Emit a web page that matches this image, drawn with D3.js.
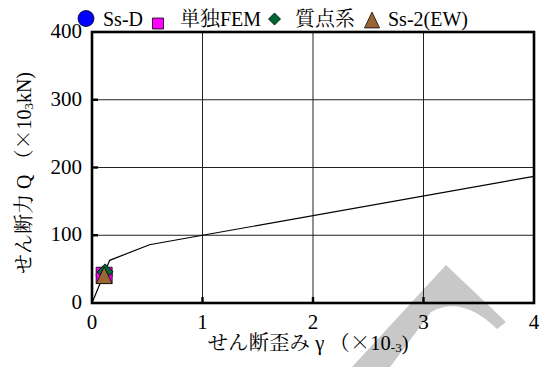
<!DOCTYPE html>
<html>
<head>
<meta charset="utf-8">
<script src="https://cdn.jsdelivr.net/npm/d3@7"></script>
<style>
  html, body { margin: 0; padding: 0; background: #fff; }
  svg { display: block; }
</style>
</head>
<body>
<svg id="chart" width="545" height="367"></svg>
<script>
// Skeleton curve (shear strain γ ×10^-3 vs shear force Q ×10^3 kN)
const curveGamma = [0, 0.16, 0.52, 1, 4];
const curveQ     = [0, 63, 86, 100, 187];

// Response points of each analysis case
const seriesNames = ["Ss-D", "単独FEM", "質点系", "Ss-2(EW)"];
const seriesGamma = [0.11, 0.11, 0.118, 0.11];
const seriesQ     = [41, 41, 46, 41];
const seriesColors = ["#0000ff", "#ff00ff", "#006633", "#996633"];
const seriesShapes = ["circle", "square", "diamond", "triangle"];

// Axis ticks
const xTicks = [0, 1, 2, 3, 4];
const yTicks = [0, 100, 200, 300, 400];

const FONT = "Liberation Serif, Noto Serif CJK JP, serif";
const CJK = "Noto Serif CJK JP, serif";

const svg = d3.select("#chart");
const x = d3.scaleLinear().domain([0, 4]).range([92, 534]);
const y = d3.scaleLinear().domain([0, 400]).range([303, 32]);

function label(sel) {
  return sel.append("text").attr("font-family", FONT).attr("fill", "#000");
}

// light grey chevron behind the lower right of the plot
svg.append("path")
  .attr("d", "M446,265 L506,322 L497,329 Q462,295 431,312 L390,367 L352,367 Z")
  .attr("fill", "#c8c8c8");

// marker outline path centred on (cx, cy); w = width
function shapePath(shape, cx, cy, w) {
  const h = w / 2;
  if (shape === "square") {
    return `M${cx - h},${cy - h}H${cx + h}V${cy + h}H${cx - h}Z`;
  } else if (shape === "diamond") {
    return `M${cx},${cy - h}L${cx + h},${cy}L${cx},${cy + h}L${cx - h},${cy}Z`;
  } else if (shape === "triangle") {
    const th = w * 1.05 / 2;
    return `M${cx},${cy - th}L${cx + h},${cy + th}L${cx - h},${cy + th}Z`;
  } else {
    const r = h;
    return `M${cx - r},${cy}A${r},${r} 0 1,0 ${cx + r},${cy}A${r},${r} 0 1,0 ${cx - r},${cy}Z`;
  }
}

// grid
const grid = svg.append("g").attr("stroke", "#222").attr("stroke-width", 1);
grid.selectAll("line.gx").data(xTicks.slice(1, -1)).join("line")
  .attr("x1", d => x(d)).attr("x2", d => x(d))
  .attr("y1", y(0)).attr("y2", y(400));
grid.selectAll("line.gy").data(yTicks.slice(1, -1)).join("line")
  .attr("y1", d => y(d)).attr("y2", d => y(d))
  .attr("x1", x(0)).attr("x2", x(4));

// skeleton curve
const line = d3.line().x(d => x(d[0])).y(d => y(d[1]));
svg.append("path")
  .datum(curveGamma.map((g, i) => [g, curveQ[i]]))
  .attr("d", line)
  .attr("fill", "none").attr("stroke", "#000").attr("stroke-width", 1.2);

// response markers
seriesNames.forEach((name, i) => {
  svg.append("path")
    .attr("d", shapePath(seriesShapes[i], x(seriesGamma[i]), y(seriesQ[i]), 16))
    .attr("fill", seriesColors[i])
    .attr("stroke", "#000").attr("stroke-width", 0.8);
});

// frame
svg.append("rect")
  .attr("x", x(0)).attr("y", y(400))
  .attr("width", x(4) - x(0)).attr("height", y(0) - y(400))
  .attr("fill", "none").attr("stroke", "#000").attr("stroke-width", 2.6);

// inward ticks
const ticks = svg.append("g").attr("stroke", "#000").attr("stroke-width", 2.4);
ticks.selectAll("line.tx").data(xTicks.slice(1, -1)).join("line")
  .attr("x1", d => x(d)).attr("x2", d => x(d))
  .attr("y1", y(0)).attr("y2", y(0) - 6);
ticks.selectAll("line.ty").data(yTicks.slice(1, -1)).join("line")
  .attr("y1", d => y(d)).attr("y2", d => y(d))
  .attr("x1", x(0)).attr("x2", x(0) + 6);

// tick labels
xTicks.forEach(d => {
  label(svg).attr("x", x(d)).attr("y", 329)
    .attr("text-anchor", "middle").attr("font-size", 21).text(d);
});
yTicks.forEach(d => {
  label(svg).attr("x", 82).attr("y", y(d) + 6)
    .attr("text-anchor", "end").attr("font-size", 21).text(d);
});

// axis titles
const xt = label(svg)
  .attr("x", 308).attr("y", 350).attr("text-anchor", "middle").attr("font-size", 20.5);
xt.append("tspan").attr("font-family", CJK).text("せん断歪み");
xt.append("tspan").text(" γ ");
xt.append("tspan").attr("font-family", CJK).text("（×");
xt.append("tspan").text("10");
xt.append("tspan").attr("font-size", 13).attr("dy", 2).text("-3");
xt.append("tspan").attr("dy", -2).text(")");

const yt = label(svg)
  .attr("transform", "translate(31,173) rotate(-90)")
  .attr("text-anchor", "middle").attr("font-size", 20);
yt.append("tspan").attr("font-family", CJK).text("せん断力");
yt.append("tspan").text(" Q ");
yt.append("tspan").attr("font-family", CJK).text("（×");
yt.append("tspan").text("10");
yt.append("tspan").attr("font-size", 13).attr("dy", 2).text("3");
yt.append("tspan").attr("dy", -2).text("kN)");

// legend
const legendSym = [
  { cx: 86, cy: 18.5, w: 16 },
  { cx: 158, cy: 23.5, w: 11 },
  { cx: 274.5, cy: 19, w: 12 },
  { cx: 372, cy: 20, w: 15 }
];
const legendTextX = [103, 180, 295, 388];
seriesNames.forEach((name, i) => {
  const s = legendSym[i];
  svg.append("path")
    .attr("d", shapePath(seriesShapes[i], s.cx, s.cy, s.w))
    .attr("fill", seriesColors[i])
    .attr("stroke", "#000").attr("stroke-width", 0.8);
  label(svg)
    .attr("x", legendTextX[i]).attr("y", 26)
    .attr("font-size", 20)
    .text(name);
});
</script>
</body>
</html>
